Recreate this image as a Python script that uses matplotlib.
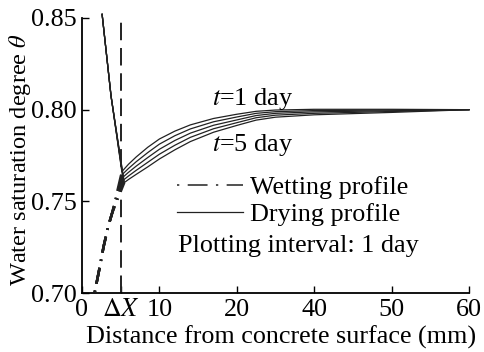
import numpy as np
import matplotlib
matplotlib.use("Agg")
import matplotlib.pyplot as plt
from matplotlib.lines import Line2D

plt.rcParams['font.family'] = ['Liberation Serif', 'DejaVu Serif']
plt.rcParams['mathtext.fontset'] = 'stix'
plt.rcParams['font.size'] = 18.8

# --- data (distance in mm, saturation degree) ---
delta_x = 5.0

# shared steep surface branch of the drying profiles
dry_head_x = [2.6, 3.75]
dry_head_y = [0.852, 0.8075]

# minimum of each drying profile (t = 1..5 day)
vertex_x = [5.15, 5.22, 5.30, 5.38, 5.46]
vertex_y = [0.7662, 0.7647, 0.7632, 0.7617, 0.7602]

# recovery branch beyond the minimum
rise_x = [6, 7, 8.5, 10, 12, 14, 17, 20, 25, 30, 40, 50, 60]
rise_t1 = [0.7702, 0.7742, 0.7795, 0.7840, 0.7883, 0.7917, 0.7952, 0.7975, 0.7991, 0.7998, 0.8002, 0.8002, 0.8000]
rise_t2 = [0.7679, 0.7716, 0.7766, 0.7812, 0.7858, 0.7895, 0.7934, 0.7960, 0.7980, 0.7989, 0.7995, 0.7998, 0.8000]
rise_t3 = [0.7658, 0.7692, 0.7739, 0.7784, 0.7832, 0.7872, 0.7915, 0.7944, 0.7968, 0.7980, 0.7988, 0.7994, 0.8000]
rise_t4 = [0.7638, 0.7669, 0.7713, 0.7757, 0.7806, 0.7849, 0.7896, 0.7929, 0.7956, 0.7970, 0.7980, 0.7990, 0.8000]
rise_t5 = [0.7619, 0.7647, 0.7688, 0.7731, 0.7781, 0.7826, 0.7877, 0.7914, 0.7943, 0.7959, 0.7972, 0.7985, 0.8000]
rise_all = [rise_t1, rise_t2, rise_t3, rise_t4, rise_t5]

# wetting profiles near the surface
wet_head_x = [1.65, 2.2, 2.8, 3.4, 3.9]
wet_head_y = [0.7005, 0.7122, 0.7255, 0.7365, 0.7437]

x_ticks = [0, delta_x, 10, 20, 40, 50, 60]
x_ticklabels = ['0', r'$\Delta X$', '10', '20', '40', '50', '60']
y_ticks = [0.70, 0.75, 0.80, 0.85]


# piecewise axis: 20-40 mm is compressed to half
def fwd(x):
    x = np.asarray(x, dtype=float)
    return np.where(x <= 20, x, np.where(x <= 40, 20 + (x - 20) / 2, x - 10))


def inv(p):
    p = np.asarray(p, dtype=float)
    return np.where(p <= 20, p, np.where(p <= 30, 20 + (p - 20) * 2, p + 10))


fig = plt.figure(figsize=(4.84, 3.52), dpi=100)
ax = fig.add_axes([82 / 484, 1 - 293 / 352, 387 / 484, 275 / 352])
ax.set_xscale('function', functions=(fwd, inv))

# drying profiles
for k in range(5):
    xs = dry_head_x + [vertex_x[k]] + rise_x
    ys = dry_head_y + [vertex_y[k]] + rise_all[k]
    ax.plot(xs, ys, color='#222222', lw=0.9, clip_on=False, zorder=3)

# wetting profiles
for k in range(5):
    xs = wet_head_x + [vertex_x[k]]
    ys = wet_head_y + [vertex_y[k]]
    ax.plot(xs, ys, color='#222222', lw=1.8, linestyle=(0, (0.6, 2.8, 6.5, 2.8)), zorder=3)

# boundary of the surface zone
ax.axvline(delta_x, color='#222222', lw=1.4, linestyle=(0, (9, 4)), zorder=2)

ax.set_xlim(0, 60)
ax.set_ylim(0.70, 0.85)
ax.set_xticks(x_ticks)
ax.set_xticklabels(x_ticklabels)
ax.set_yticks(y_ticks)
ax.set_yticklabels(['%.2f' % v for v in y_ticks])
ax.tick_params(direction='in', length=5, width=1.0, pad=4)
ax.xaxis.set_minor_locator(matplotlib.ticker.NullLocator())

for side in ['top', 'right']:
    ax.spines[side].set_visible(False)
for side in ['left', 'bottom']:
    ax.spines[side].set_linewidth(1.3)

ax.set_xlabel('Distance from concrete surface (mm)')
ax.set_ylabel(r'Water saturation degree $\theta$', fontsize=17.6)
ax.xaxis.set_label_coords(0.514, -0.118)
ax.yaxis.set_label_coords(-0.127, 0.484)

ax.text(0.336, 0.705, r'$t$=1 day', transform=ax.transAxes, ha='left', va='center')
ax.text(0.336, 0.538, r'$t$=5 day', transform=ax.transAxes, ha='left', va='center')

handles = [
    Line2D([], [], color='#222222', lw=1.1, linestyle=(0, (1.5, 5.5, 13, 5.5))),
    Line2D([], [], color='#222222', lw=0.9),
]
ax.legend(handles, ['Wetting profile', 'Drying profile'], frameon=False,
          loc='upper left', bbox_to_anchor=(0.245, 0.425), borderpad=0, borderaxespad=0,
          handlelength=2.55, handletextpad=0.25, labelspacing=0.12)
ax.text(0.248, 0.171, 'Plotting interval: 1 day', transform=ax.transAxes, ha='left', va='center')

fig.savefig('out.png', dpi=100)
